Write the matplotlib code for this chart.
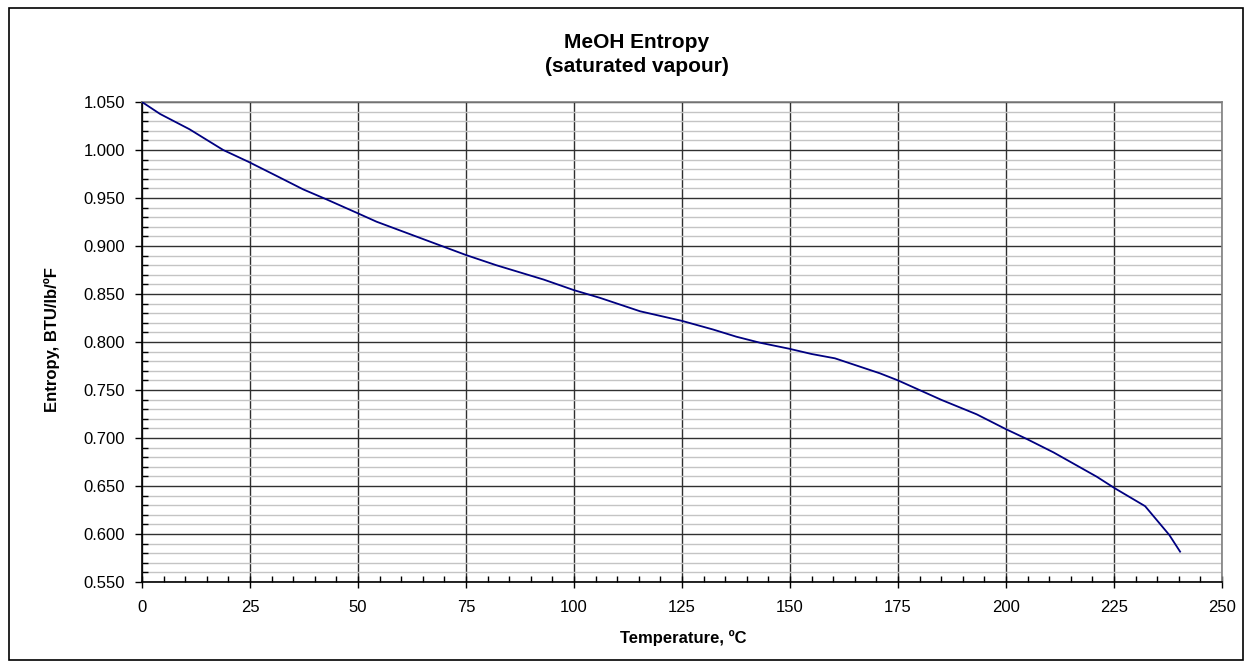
import matplotlib
matplotlib.use("Agg")
import matplotlib.pyplot as plt
from matplotlib.ticker import MultipleLocator, FormatStrFormatter
from matplotlib.patches import Rectangle

temperature_c = [0, 4.2, 11, 18.8, 24.6, 31.2, 37.3, 42.7, 50, 54.3, 66.7, 75, 82,
                 93, 100, 106, 115.3, 125, 132.2, 137.6, 143, 149.8, 155, 160.4,
                 170.8, 175, 185.1, 193.2, 199.9, 204.8, 211, 221, 225.2, 232.2,
                 237.8, 240.3]
entropy = [1.050, 1.0375, 1.0216, 1.000, 0.9878, 0.9729, 0.959, 0.9486, 0.934,
           0.9253, 0.9045, 0.8906, 0.880, 0.865, 0.854, 0.846, 0.832, 0.822,
           0.813, 0.8055, 0.7993, 0.793, 0.7875, 0.783, 0.7674, 0.760, 0.7396,
           0.7247, 0.7094, 0.699, 0.685, 0.6597, 0.6476, 0.629, 0.599, 0.5816]

title_lines = ["MeOH Entropy", "(saturated vapour)"]
xlabel = "Temperature, ºC"
ylabel = "Entropy, BTU/lb/ºF"

plt.rcParams['font.family'] = ['Liberation Sans', 'DejaVu Sans']

W, H = 1251, 668
fig = plt.figure(figsize=(W / 100, H / 100), dpi=100)
ax = fig.add_axes([142 / W, 1 - 582 / H, (1222 - 142) / W, (582 - 102) / H])

ax.plot(temperature_c, entropy, color='#000080', lw=1.3, zorder=3)

ax.set_xlim(0, 250)
ax.set_ylim(0.55, 1.05)
ax.xaxis.set_major_locator(MultipleLocator(25))
ax.xaxis.set_minor_locator(MultipleLocator(5))
ax.yaxis.set_major_locator(MultipleLocator(0.05))
ax.yaxis.set_minor_locator(MultipleLocator(0.01))
ax.yaxis.set_major_formatter(FormatStrFormatter('%.3f'))

ax.grid(which='minor', axis='y', color='#c4c4c4', lw=1.0, zorder=0)
ax.grid(which='major', axis='both', color='#303030', lw=1.0, zorder=1)

ax.tick_params(axis='x', which='major', direction='inout', length=8, width=1, labelsize=12, pad=9)
ax.tick_params(axis='y', which='major', direction='out', length=5, width=1, labelsize=12, pad=7)
ax.tick_params(which='minor', direction='in', length=4, width=1)

for s in ['left', 'bottom']:
    ax.spines[s].set_color('black')
    ax.spines[s].set_linewidth(1.2)
for s in ['top', 'right']:
    ax.spines[s].set_color('#808080')
    ax.spines[s].set_linewidth(1.2)

fig.text(637 / W, 1 - 42 / H, title_lines[0], fontsize=15, fontweight='bold',
         ha='center', va='center')
fig.text(637 / W, 1 - 67 / H, title_lines[1], fontsize=15, fontweight='bold',
         ha='center', va='center')
fig.text(683 / W, 1 - 638 / H, xlabel, fontsize=12, fontweight='bold',
         ha='center', va='center')
fig.text(52 / W, 1 - 340 / H, ylabel, fontsize=12, fontweight='bold',
         ha='center', va='center', rotation=90)

fig.patches.append(Rectangle((9 / W, 1 - 660 / H), (1243 - 9) / W, (660 - 8) / H,
                             transform=fig.transFigure, fill=False,
                             edgecolor='black', lw=1.2))

fig.savefig('out.png', dpi=100)
